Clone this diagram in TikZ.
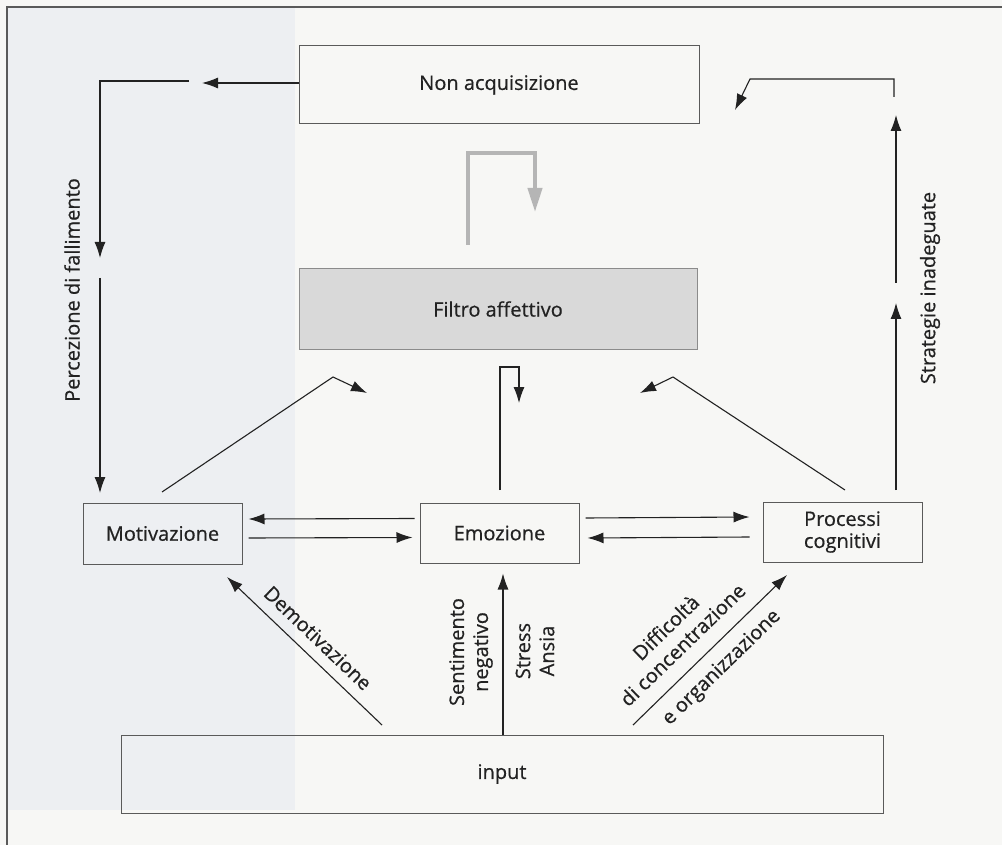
\documentclass[tikz,border=0pt]{standalone}
\usepackage{fontspec}
\setmainfont{Open Sans}[FakeBold=0.6]
\usetikzlibrary{arrows.meta}

\definecolor{paper}{HTML}{F7F7F5}
\definecolor{paperleft}{HTML}{EDEFF2}
\definecolor{ink}{HTML}{222222}
\definecolor{boxline}{HTML}{5A5A5A}
\definecolor{filterfill}{HTML}{D9D9D9}
\definecolor{loopgrey}{HTML}{B5B5B5}

\tikzset{
  lbl/.style={font=\fontsize{20}{24}\selectfont, text=ink, inner sep=0pt, align=center},
  stage/.style={draw=boxline, line width=1pt, inner sep=0pt, lbl},
  arr/.style={draw=ink, line width=1.1pt, -{Latex[length=16pt,width=11pt]}},
  greyarr/.style={draw=loopgrey, line width=4pt, -{Triangle[length=24pt,width=14pt]}},
}

\begin{document}
\begin{tikzpicture}[x=1pt,y=-1pt]
\useasboundingbox (0,0) rectangle (1002,845);

% page and frame
\fill[paper] (0,0) rectangle (1002,845);
\fill[paperleft] (7,7) rectangle (295,810);
\draw[boxline, line width=1.5pt] (7,845) -- (7,7) -- (1002,7);

% stages
\node[stage, minimum width=400pt, minimum height=78pt] (nonacq) at (499,85) {Non acquisizione};
\node[stage, fill=filterfill, draw=boxline!70, minimum width=398pt, minimum height=80pt] (filtro) at (498,309) {Filtro affettivo};
\node[stage, minimum width=159pt, minimum height=61pt] (motiv) at (162.5,533.5) {Motivazione};
\node[stage, minimum width=159pt, minimum height=60pt] (emoz) at (499.5,533) {Emozione};
\node[stage, minimum width=159pt, minimum height=60pt] (proc) at (842.5,532) {Processi\\[-2pt]cognitivi};
\node[stage, minimum width=762pt, minimum height=78pt] (input) at (502,774) {input};

% free ends of the connectors
\coordinate (failA) at (202,83);
\coordinate (failB) at (189,81);
\coordinate (failC) at (100,81);
\coordinate (failD) at (100,258);
\coordinate (failE) at (100,278);
\coordinate (failF) at (100,493);

\coordinate (stratA) at (896,490);
\coordinate (stratB) at (896,303);
\coordinate (stratC) at (896,283);
\coordinate (stratD) at (896,115);
\coordinate (stratE) at (894,97);
\coordinate (stratF) at (894,79);
\coordinate (stratG) at (750,79);
\coordinate (stratH) at (735,110);

\coordinate (loopA) at (468,245);
\coordinate (loopB) at (468,153);
\coordinate (loopC) at (535,153);
\coordinate (loopD) at (535,212);

\coordinate (motA) at (162,492);
\coordinate (motB) at (333,377);
\coordinate (motC) at (367,393);

\coordinate (proA) at (845,490);
\coordinate (proB) at (673,377);
\coordinate (proC) at (640,393);

\coordinate (emoA) at (500,490);
\coordinate (emoB) at (500,367);
\coordinate (emoC) at (519,367);
\coordinate (emoD) at (519,403);

\coordinate (demA) at (382,725);
\coordinate (demB) at (227,577);
\coordinate (difA) at (633,725);
\coordinate (difB) at (787,575);

% perception of failure
\draw[arr] (nonacq.west |- failA) -- (failA);
\draw[arr] (failB) -- (failC) -- (failD);
\draw[arr] (failE) -- (failF);
\node[lbl, rotate=90] (percez) at (72,290) {Percezione di fallimento};

% inadequate strategies
\draw[arr] (stratA) -- (stratB);
\draw[arr] (stratC) -- (stratD);
\draw[arr] (stratE) -- (stratF) -- (stratG) -- (stratH);
\node[lbl, rotate=90] (strat) at (930,288) {Strategie inadeguate};

% loop between the filter and non-acquisition
\draw[greyarr] (loopA) -- (loopB) -- (loopC) -- (loopD);

% links into the affective filter
\draw[arr] (motA) -- (motB) -- (motC);
\draw[arr] (proA) -- (proB) -- (proC);
\draw[arr] (emoA) -- (emoB) -- (emoC) -- (emoD);

% motivation <-> emotion <-> cognition
\draw[arr] ([xshift=-5pt,yshift=14.5pt]emoz.west) -- ([xshift=6pt,yshift=14.5pt]motiv.east);
\draw[arr] ([xshift=6pt,yshift=-4.5pt]motiv.east) -- ([xshift=-7pt,yshift=-4.5pt]emoz.west);
\draw[arr] ([xshift=6pt,yshift=15pt]emoz.east) -- ([xshift=-13pt,yshift=15pt]proc.west);
\draw[arr] ([xshift=-13pt,yshift=-5pt]proc.west) -- ([xshift=8pt,yshift=-5pt]emoz.east);

% from the input
\draw[arr] (demA) -- (demB);
\node[lbl, rotate=-43.7] (demot) at (318,638) {Demotivazione};

\draw[arr] ([xshift=1pt]input.north) -- ([xshift=3.5pt,yshift=-10pt]emoz.south);
\node[lbl, rotate=90] (sentim) at (471,652) {Sentimento\\negativo};
\node[lbl, rotate=90] (stress) at (535,651) {Stress\\Ansia};

\draw[arr] (difA) -- (difB);
\node[lbl, rotate=44.2] (diff) at (674,636) {Difficoltà\\di concentrazione};
\node[lbl, rotate=44.2] (diffb) at (722,668) {e organizzazione};
\end{tikzpicture}
\end{document}
